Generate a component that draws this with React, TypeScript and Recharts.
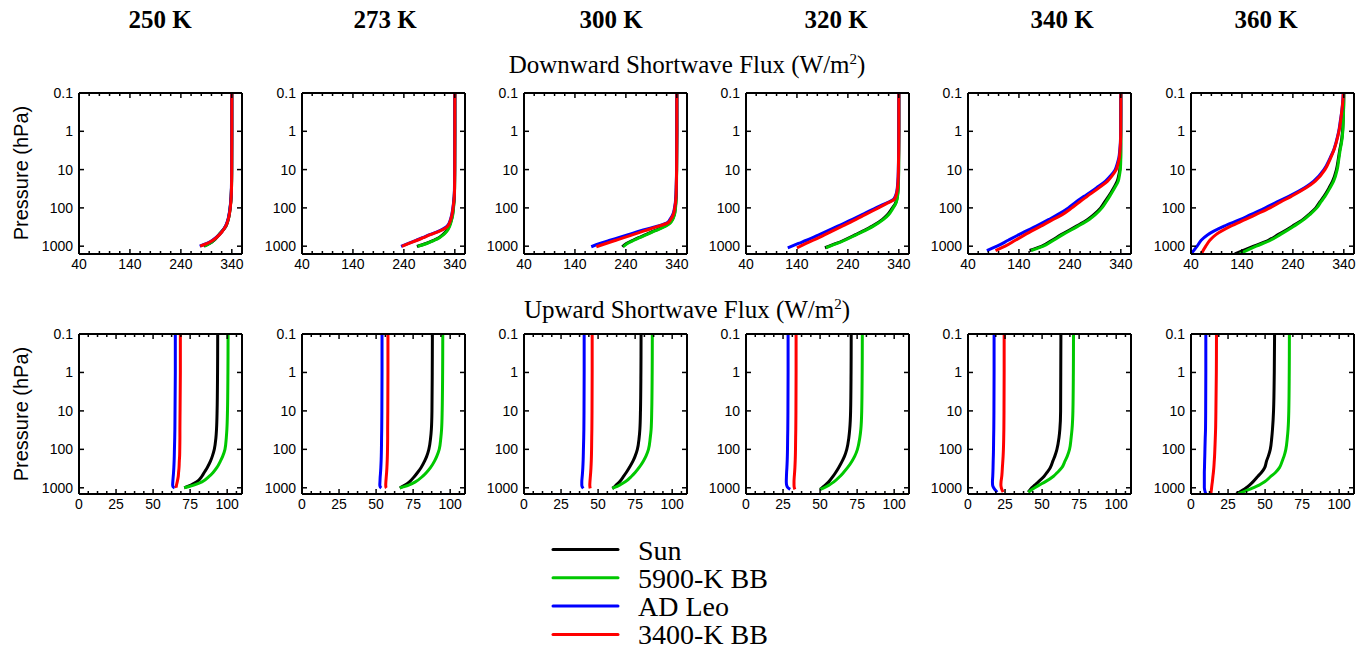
import React from 'react';
import { LineChart, Line, XAxis, YAxis } from 'recharts';

// ---------- series meta ----------
const SERIES_NAMES = ['Sun', '5900-K BB', 'AD Leo', '3400-K BB'];
const SERIES_COLORS = ['#000000', '#00c800', '#0000ff', '#ff0000'];
const TEMPS = ['250 K', '273 K', '300 K', '320 K', '340 K', '360 K'];

// ---------- axes ----------
const DN_X_DOMAIN = [40, 360];
const DN_X_TICKS = [40, 60, 80, 100, 120, 140, 160, 180, 200, 220, 240, 260, 280, 300, 320, 340, 360];
const DN_X_MAJOR = [40, 140, 240, 340];
const UP_X_DOMAIN = [0, 110];
const UP_X_TICKS = [0, 6.25, 12.5, 18.75, 25, 31.25, 37.5, 43.75, 50, 56.25, 62.5, 68.75, 75, 81.25, 87.5, 93.75, 100, 106.25];
const UP_X_MAJOR = [0, 25, 50, 75, 100];
const Y_TICKS = [0.1, 1, 10, 100, 1000];
const DN_Y_MAX = 1600;
const UP_Y_MAX = 1450;

// ---------- Downward shortwave flux (W/m2) ----------
const DN250_P = [0.1, 1, 10, 30, 50, 100, 150, 200, 300, 400, 500, 700, 850, 1000];
const DN250_SUN = [340, 340, 339.8, 339.4, 338.8, 336.8, 335, 333, 328.5, 321.5, 315, 305, 296, 285];
const DN250_BB5900 = [340, 340, 339.8, 339.4, 338.8, 336.8, 335, 333, 328, 321, 314.5, 304.5, 296, 286];
const DN250_ADLEO = [340, 340, 339.7, 339.2, 338.5, 336.5, 334.5, 332.5, 327.5, 321.5, 315.5, 302, 291, 277];
const DN250_BB3400 = [340, 340, 339.8, 339.4, 338.8, 337, 335, 333, 328, 322, 316, 303, 292, 278];

const DN273_P = [0.1, 1, 10, 30, 50, 100, 150, 200, 300, 400, 500, 600, 700, 850, 1010];
const DN273_SUN = [340, 340, 339.8, 339.5, 339, 337.2, 335.5, 333.5, 329, 323.5, 316.5, 308.5, 298.5, 283.5, 265.5];
const DN273_BB5900 = [340, 340, 339.8, 339.6, 339.2, 337.5, 336, 334, 330, 325, 318, 310, 300, 285, 267];
const DN273_ADLEO = [340, 340, 339.7, 339.3, 338.8, 336.2, 334, 331.5, 325, 309.5, 290.5, 276.5, 264.5, 249, 234.5];
const DN273_BB3400 = [340, 340, 339.8, 339.5, 339, 336.5, 334.5, 332, 326, 311, 292, 278, 266, 250, 236];

const DN300_P = [0.1, 1, 10, 30, 50, 100, 150, 200, 250, 300, 400, 500, 600, 700, 850, 1035];
const DN300_SUN = [340, 340, 339.6, 339.1, 338.7, 337, 335, 331, 325.5, 316, 295, 279, 265, 254, 241, 233];
const DN300_BB5900 = [340, 340, 339.7, 339.3, 339, 337.5, 335.5, 332, 327, 318, 297, 281, 267, 256, 243, 235];
const DN300_ADLEO = [340, 340, 339.5, 338.8, 338.2, 335.5, 332, 326.5, 320, 301.5, 267.5, 244.5, 225.5, 209, 189, 172];
const DN300_BB3400 = [340, 340, 339.6, 339, 338.5, 336, 333, 328, 321.5, 304.5, 276, 254, 236, 220.5, 201, 182];

const DN320_P = [0.1, 1, 10, 20, 30, 40, 50, 60, 80, 100, 150, 200, 300, 400, 500, 700, 850, 1100];
const DN320_SUN = [340, 340, 339.6, 339.2, 338.7, 338, 337, 336, 332.5, 327.5, 318, 308, 288, 270, 255, 232, 217, 195];
const DN320_BB5900 = [340, 340, 339.7, 339.4, 339, 338.4, 337.5, 336.5, 333.5, 329, 320, 310, 290, 272, 257, 234, 219, 197];
const DN320_ADLEO = [340, 339.9, 339, 338.2, 337, 335.5, 333, 329.5, 311, 295, 268, 249, 220, 200, 184, 159, 143, 122];
const DN320_BB3400 = [340, 340, 339.2, 338.5, 337.5, 336, 334, 331, 314, 300, 274, 256, 229, 210, 195, 172, 158, 140];

const DN340_P = [0.1, 0.3, 1, 2, 3, 5, 7, 10, 15, 20, 30, 50, 70, 100, 150, 200, 300, 500, 700, 1000, 1300];
const DN340_SUN = [340, 340, 340, 339.9, 339.8, 339.5, 339, 338, 335.5, 333, 326, 316, 308.5, 300.5, 287, 275, 253, 223, 205, 185, 161];
const DN340_BB5900 = [340, 340, 340, 340, 340, 340, 339.7, 339, 337, 335, 328, 318, 311, 303, 290, 278, 256, 226, 208, 188, 164];
const DN340_ADLEO = [340, 340, 339.7, 339.1, 338, 336, 333, 329, 319, 310, 292, 268, 252, 237, 216, 199, 174, 140, 119, 97, 77];
const DN340_BB3400 = [340, 340, 339.8, 339.3, 338.5, 337, 334.5, 331, 322, 314, 297, 274, 259, 244, 225, 207, 183, 152, 133, 113, 94];

const DN360_P = [0.1, 0.2, 0.3, 0.5, 1, 2, 3, 5, 10, 20, 30, 50, 70, 100, 150, 200, 300, 500, 700, 1000, 1600];
const DN360_SUN = [340, 339.7, 339.3, 338.7, 337.5, 334.8, 332.2, 329.5, 325.5, 318, 311, 301, 293, 285, 271, 260, 239, 211, 192, 163, 126];
const DN360_BB5900 = [340, 339.8, 339.5, 339, 338, 335.5, 333, 330.5, 327, 320, 313, 303, 295, 287, 273, 262, 242, 215, 196, 168, 135];
const DN360_ADLEO = [339, 337.3, 336, 333.5, 330, 324.5, 320.5, 313, 301, 281, 263, 232, 209, 186, 157, 137, 105, 73, 60, 52, 40];
const DN360_BB3400 = [339, 337.5, 336, 334, 330.5, 325, 321, 314, 303, 284, 266, 237, 216, 195, 167, 147, 118, 89, 77, 69, 60];

// ---------- Upward shortwave flux (W/m2) ----------
const UP250_P = [0.1, 1, 10, 30, 50, 100, 150, 200, 300, 400, 500, 700, 850, 950, 1000];
const UP250_SUN = [93.6, 93.5, 93.2, 92.8, 92.4, 91.3, 90, 88.8, 86.5, 84.5, 83, 79.5, 75.5, 72.5, 71];
const UP250_BB5900 = [100.6, 100.5, 100.2, 99.8, 99.4, 98.5, 97, 95.5, 93, 90.5, 88, 83, 77.5, 73, 71];
const UP250_ADLEO = [65, 65, 64.8, 64.7, 64.6, 64.4, 64.3, 64.2, 64, 63.8, 63.6, 63.3, 63.2, 63.5, 64.5];
const UP250_BB3400 = [68.4, 68.4, 68.2, 68.1, 68.1, 68, 67.9, 67.7, 67.5, 67.2, 67, 66.3, 65.8, 65.6, 65.7];

const UP273_P = [0.1, 1, 10, 30, 50, 100, 150, 200, 300, 400, 500, 700, 850, 950, 1010];
const UP273_SUN = [88, 87.9, 87.7, 87.3, 86.8, 85.6, 84.2, 82.8, 80.3, 78, 76, 72.5, 69.5, 67.3, 66];
const UP273_BB5900 = [95, 94.9, 94.6, 94.2, 93.7, 92.6, 91, 89.5, 86.7, 84, 81.5, 76.5, 72, 68.2, 66];
const UP273_ADLEO = [54, 54, 53.9, 53.8, 53.7, 53.6, 53.5, 53.4, 53.2, 53, 52.8, 52.6, 52.5, 52.8, 53.5];
const UP273_BB3400 = [58, 58, 57.9, 57.8, 57.8, 57.7, 57.6, 57.5, 57.3, 57.1, 56.9, 56.6, 56.5, 56.6, 57];

const UP300_P = [0.1, 1, 10, 30, 50, 100, 150, 200, 300, 400, 500, 700, 850, 950, 1035];
const UP300_SUN = [79, 78.9, 78.6, 78.2, 77.7, 76.5, 75, 73.6, 71, 69, 67.3, 64.5, 62.2, 61, 59.6];
const UP300_BB5900 = [86.6, 86.5, 86.2, 85.8, 85.2, 84, 82.3, 80.6, 77.6, 75, 72.6, 68.3, 64.5, 62, 59.6];
const UP300_ADLEO = [40.6, 40.6, 40.5, 40.4, 40.3, 40.1, 40, 39.9, 39.7, 39.5, 39.3, 39, 39, 39.3, 40];
const UP300_BB3400 = [46, 46, 45.9, 45.8, 45.7, 45.6, 45.5, 45.4, 45.2, 45, 44.8, 44.5, 44.4, 44.5, 44.7];

const UP320_P = [0.1, 1, 10, 30, 50, 100, 150, 200, 300, 400, 500, 700, 850, 1000, 1100];
const UP320_SUN = [71, 70.9, 70.6, 70, 69.4, 68, 66.5, 65, 62.5, 60.5, 58.8, 55.8, 53.5, 51.3, 50];
const UP320_BB5900 = [78.5, 78.4, 78.1, 77.5, 76.8, 75.2, 73.4, 71.6, 68.5, 65.8, 63.5, 59.3, 56, 52.5, 50];
const UP320_ADLEO = [28.4, 28.4, 28.3, 28.2, 28.1, 28, 27.9, 27.8, 27.6, 27.4, 27.3, 27.2, 27.4, 28.3, 29.8];
const UP320_BB3400 = [33.8, 33.8, 33.7, 33.6, 33.5, 33.4, 33.3, 33.2, 33, 32.8, 32.6, 32.4, 32.4, 32.6, 33];

const UP340_P = [0.1, 1, 10, 30, 50, 100, 150, 200, 300, 400, 500, 700, 850, 1000, 1300];
const UP340_SUN = [62.7, 62.6, 62.5, 62, 61.4, 60, 58.6, 57.3, 55.5, 53.3, 51.4, 47.5, 45, 43, 40.7];
const UP340_BB5900 = [71.2, 71.1, 70.8, 70.2, 69.6, 68.5, 67, 65.5, 63.3, 60.3, 57.7, 52, 48, 45, 40.7];
const UP340_ADLEO = [17.6, 17.6, 17.5, 17.4, 17.3, 17.2, 17.1, 17, 16.9, 16.8, 16.7, 16.5, 16.6, 17.3, 19.7];
const UP340_BB3400 = [24.4, 24.4, 24.3, 24.2, 24.1, 23.9, 23.7, 23.5, 23.2, 23, 22.8, 22.3, 22.2, 22.5, 23.7];

const UP360_P = [0.1, 1, 10, 30, 50, 100, 150, 200, 300, 400, 500, 700, 850, 1000, 1450];
const UP360_SUN = [56.4, 56.2, 55.7, 55, 54.5, 53.5, 52.2, 51, 49.7, 47.5, 45.2, 41.8, 39.5, 37.3, 30.6];
const UP360_BB5900 = [66.4, 66.3, 66, 65.5, 65, 64, 62.8, 61.6, 59.7, 57, 54, 49.7, 46, 41.8, 31.7];
const UP360_ADLEO = [10, 10, 9.9, 9.8, 9.6, 9.4, 9.3, 9.2, 9.1, 9, 9, 9, 9, 9, 10];
const UP360_BB3400 = [17.2, 17.1, 16.8, 16.6, 16.4, 16.1, 15.9, 15.7, 15.4, 15.1, 14.8, 14.4, 14.1, 13.9, 13.4];

const DN_PANELS = [
  { p: DN250_P, v: [DN250_SUN, DN250_BB5900, DN250_ADLEO, DN250_BB3400] },
  { p: DN273_P, v: [DN273_SUN, DN273_BB5900, DN273_ADLEO, DN273_BB3400] },
  { p: DN300_P, v: [DN300_SUN, DN300_BB5900, DN300_ADLEO, DN300_BB3400] },
  { p: DN320_P, v: [DN320_SUN, DN320_BB5900, DN320_ADLEO, DN320_BB3400] },
  { p: DN340_P, v: [DN340_SUN, DN340_BB5900, DN340_ADLEO, DN340_BB3400] },
  { p: DN360_P, v: [DN360_SUN, DN360_BB5900, DN360_ADLEO, DN360_BB3400] },
];
const UP_PANELS = [
  { p: UP250_P, v: [UP250_SUN, UP250_BB5900, UP250_ADLEO, UP250_BB3400] },
  { p: UP273_P, v: [UP273_SUN, UP273_BB5900, UP273_ADLEO, UP273_BB3400] },
  { p: UP300_P, v: [UP300_SUN, UP300_BB5900, UP300_ADLEO, UP300_BB3400] },
  { p: UP320_P, v: [UP320_SUN, UP320_BB5900, UP320_ADLEO, UP320_BB3400] },
  { p: UP340_P, v: [UP340_SUN, UP340_BB5900, UP340_ADLEO, UP340_BB3400] },
  { p: UP360_P, v: [UP360_SUN, UP360_BB5900, UP360_ADLEO, UP360_BB3400] },
];

// ---------- layout ----------
const PANEL_LEFTS = [79, 302, 524, 746, 968, 1191];
const PLOT_W = 163;
const DN_TOP = 93;
const DN_H = 161;
const UP_TOP = 334;
const UP_H = 160;
const TITLE_X = [160, 385, 611, 836, 1062, 1266];

const TICK_FONT = "'Liberation Sans', Arial, sans-serif";
const SERIF = "'Liberation Serif', 'Times New Roman', serif";

const fmtY = (v: number) => (v < 1 ? '0.1' : String(v));

function Panel(props: any) {
  const { left, top, plotH, xDomain, xTicks, xMajor, yMax, pres, vals } = props;
  const ML = 45, MT = 12, MR = 6, XH = 26;
  const w = ML + PLOT_W + MR;
  const h = MT + plotH + XH;
  const series = vals.map((xs: number[]) => xs.map((x, j) => ({ x, p: pres[j] })));
  const axisLine = { stroke: '#000', strokeWidth: 2 };

  const bottomTick = (pr: any) => {
    const v = pr.payload.value;
    const isMaj = xMajor.indexOf(v) >= 0;
    const ay = pr.y - 3;
    return (
      <g key={'b' + v}>
        <line x1={pr.x} x2={pr.x} y1={ay} y2={ay - (isMaj ? 5 : 3)} stroke="#000" strokeWidth={1.5} />
        {isMaj ? (
          <text x={pr.x} y={ay + 15} textAnchor="middle" fontSize={14} fontFamily={TICK_FONT} fill="#000">
            {v}
          </text>
        ) : null}
      </g>
    );
  };
  const topTick = (pr: any) => {
    const v = pr.payload.value;
    const isMaj = xMajor.indexOf(v) >= 0;
    return (
      <line key={'t' + v} x1={pr.x} x2={pr.x} y1={pr.y} y2={pr.y + (isMaj ? 5 : 3)} stroke="#000" strokeWidth={1.5} />
    );
  };
  const leftTick = (pr: any) => {
    const v = pr.payload.value;
    const ax = pr.x + 5;
    return (
      <g key={'l' + v}>
        <line x1={ax} x2={ax + 5} y1={pr.y} y2={pr.y} stroke="#000" strokeWidth={1.5} />
        <text x={pr.x - 1} y={pr.y + 5} textAnchor="end" fontSize={14} fontFamily={TICK_FONT} fill="#000">
          {fmtY(v)}
        </text>
      </g>
    );
  };
  const rightTick = (pr: any) => {
    const v = pr.payload.value;
    return <line key={'r' + v} x1={pr.x} x2={pr.x - 5} y1={pr.y} y2={pr.y} stroke="#000" strokeWidth={1.5} />;
  };

  return (
    <div style={{ position: 'absolute', left: left - ML, top: top - MT }}>
      <LineChart width={w} height={h} margin={{ top: MT - 1, right: MR - 1, bottom: 0, left: 0 }}>
        <XAxis
          xAxisId="b"
          type="number"
          dataKey="x"
          domain={xDomain}
          allowDataOverflow
          ticks={xTicks}
          interval={0}
          tickSize={0}
          tickMargin={3}
          height={XH}
          axisLine={axisLine}
          tickLine={false}
          tick={bottomTick}
        />
        <XAxis
          xAxisId="t"
          orientation="top"
          type="number"
          dataKey="x"
          domain={xDomain}
          allowDataOverflow
          ticks={xTicks}
          interval={0}
          tickSize={0}
          tickMargin={0}
          height={1}
          axisLine={axisLine}
          tickLine={false}
          tick={topTick}
        />
        <YAxis
          yAxisId="l"
          type="number"
          scale="log"
          domain={[0.1, yMax]}
          allowDataOverflow
          reversed
          ticks={Y_TICKS}
          interval={0}
          tickSize={0}
          tickMargin={5}
          width={ML}
          axisLine={axisLine}
          tickLine={false}
          tick={leftTick}
        />
        <YAxis
          yAxisId="r"
          orientation="right"
          type="number"
          scale="log"
          domain={[0.1, yMax]}
          allowDataOverflow
          reversed
          ticks={Y_TICKS}
          interval={0}
          tickSize={0}
          tickMargin={0}
          width={1}
          axisLine={axisLine}
          tickLine={false}
          tick={rightTick}
        />
        {series.map((d: any[], i: number) => (
          <Line
            key={SERIES_NAMES[i]}
            name={SERIES_NAMES[i]}
            xAxisId="b"
            yAxisId="l"
            data={d}
            dataKey="p"
            type="monotoneY"
            stroke={SERIES_COLORS[i]}
            strokeWidth={3}
            dot={false}
            activeDot={false}
            isAnimationActive={false}
          />
        ))}
      </LineChart>
    </div>
  );
}

function Overlay() {
  return (
    <svg width={1362} height={649} style={{ position: 'absolute', left: 0, top: 0, pointerEvents: 'none' }}>
      {TEMPS.map((t, i) => (
        <text key={t} x={TITLE_X[i]} y={28} textAnchor="middle" fontFamily={SERIF} fontWeight="bold" fontSize={25} fill="#000">
          {t}
        </text>
      ))}
      <text x={687} y={73} textAnchor="middle" fontFamily={SERIF} fontSize={25} fill="#000">
        Downward Shortwave Flux (W/m<tspan dy={-9} fontSize={15}>2</tspan><tspan dy={9}>)</tspan>
      </text>
      <text x={687} y={318} textAnchor="middle" fontFamily={SERIF} fontSize={25} fill="#000">
        Upward Shortwave Flux (W/m<tspan dy={-9} fontSize={15}>2</tspan><tspan dy={9}>)</tspan>
      </text>
      <text x={28} y={173} transform="rotate(-90 28 173)" textAnchor="middle" fontFamily={TICK_FONT} fontSize={20} fill="#000">
        Pressure (hPa)
      </text>
      <text x={28} y={414} transform="rotate(-90 28 414)" textAnchor="middle" fontFamily={TICK_FONT} fontSize={20} fill="#000">
        Pressure (hPa)
      </text>
      {SERIES_NAMES.map((n, i) => {
        const y = 549.5 + i * 28.3;
        return (
          <g key={n}>
            <line x1={553} x2={618} y1={y} y2={y} stroke={SERIES_COLORS[i]} strokeWidth={3} strokeLinecap="round" />
            <text x={638} y={y + 10} fontFamily={SERIF} fontSize={28} fill="#000">
              {n}
            </text>
          </g>
        );
      })}
    </svg>
  );
}

export default function App() {
  return (
    <div style={{ position: 'absolute', left: 0, top: 0, width: 1362, height: 649, background: '#fff', overflow: 'hidden' }}>
      {DN_PANELS.map((pn, i) => (
        <Panel
          key={'dn' + i}
          left={PANEL_LEFTS[i]}
          top={DN_TOP}
          plotH={DN_H}
          xDomain={DN_X_DOMAIN}
          xTicks={DN_X_TICKS}
          xMajor={DN_X_MAJOR}
          yMax={DN_Y_MAX}
          pres={pn.p}
          vals={pn.v}
        />
      ))}
      {UP_PANELS.map((pn, i) => (
        <Panel
          key={'up' + i}
          left={PANEL_LEFTS[i]}
          top={UP_TOP}
          plotH={UP_H}
          xDomain={UP_X_DOMAIN}
          xTicks={UP_X_TICKS}
          xMajor={UP_X_MAJOR}
          yMax={UP_Y_MAX}
          pres={pn.p}
          vals={pn.v}
        />
      ))}
      <Overlay />
    </div>
  );
}
